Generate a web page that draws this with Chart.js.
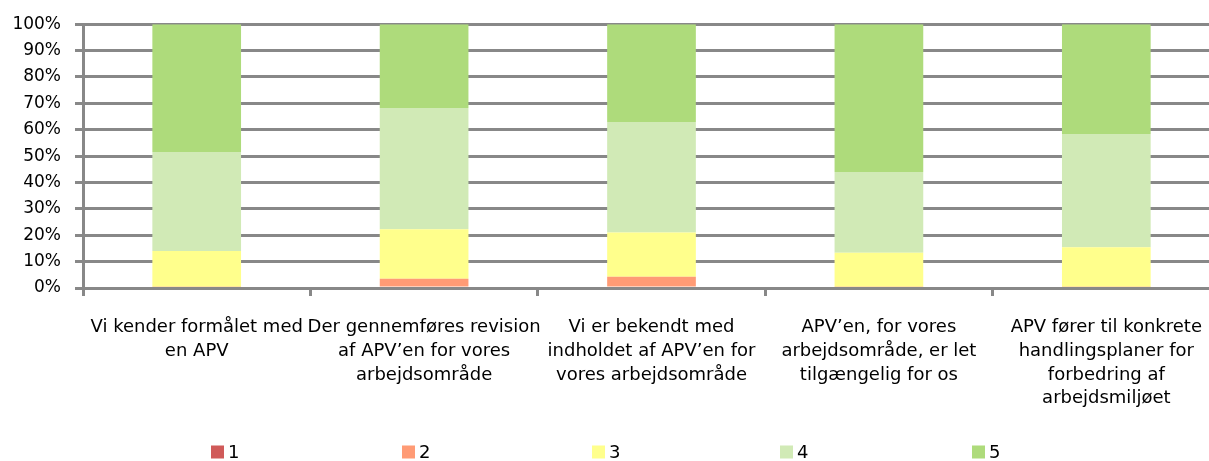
<!DOCTYPE html>
<html>
<head>
<meta charset="utf-8">
<script src="https://cdn.jsdelivr.net/npm/chart.js@4/dist/chart.umd.min.js"></script>
<style>
html,body{margin:0;padding:0;overflow:hidden;background:#fff;}
#wrap{width:1221px;height:461px;}
</style>
</head>
<body>
<div id="wrap"><canvas id="c" width="1221" height="461"></canvas></div>
<script>
const categories = [
  ["Vi kender formålet med", "en APV"],
  ["Der gennemføres revision", "af APV’en for vores", "arbejdsområde"],
  ["Vi er bekendt med", "indholdet af APV’en for", "vores arbejdsområde"],
  ["APV’en, for vores", "arbejdsområde, er let", "tilgængelig for os"],
  ["APV fører til konkrete", "handlingsplaner for", "forbedring af", "arbejdsmiljøet"]
];
const seriesNames = ["1", "2", "3", "4", "5"];
const s1 = [0, 0, 0, 0, 0];
const s2 = [0.5, 3.5, 4.3, 0.5, 0.5];
const s3 = [13.5, 18.8, 16.7, 12.9, 14.9];
const s4 = [37.6, 45.9, 41.9, 30.6, 43.0];
const s5 = [48.4, 31.8, 37.1, 56.0, 41.6];
const yTicks = [0, 10, 20, 30, 40, 50, 60, 70, 80, 90, 100];

const colors = ["#D05A59", "#FF9B75", "#FFFF8C", "#D1EAB6", "#AEDB7B"];
const seriesValues = [s1, s2, s3, s4, s5];
const FONT = "'DejaVu Sans', sans-serif";

const legendPlugin = {
  id: 'customLegend',
  afterDraw(chart) {
    const ctx = chart.ctx;
    const lefts = [211, 402, 592, 780, 972];
    ctx.save();
    ctx.font = "18px " + FONT;
    ctx.textBaseline = 'middle';
    ctx.textAlign = 'left';
    chart.data.datasets.forEach((ds, i) => {
      const x = lefts[i];
      const yc = 452;
      ctx.fillStyle = ds.backgroundColor;
      ctx.fillRect(x, yc - 6.5, 13, 13);
      ctx.fillStyle = '#000';
      ctx.fillText(ds.label, x + 17, yc + 1);
    });
    ctx.restore();
  }
};

new Chart(document.getElementById('c'), {
  type: 'bar',
  data: {
    labels: categories,
    datasets: seriesNames.map((n, i) => ({
      label: n,
      data: seriesValues[i],
      backgroundColor: colors[i],
      borderWidth: 0,
      categoryPercentage: 1,
      barPercentage: 0.39
    }))
  },
  options: {
    responsive: false,
    animation: false,
    devicePixelRatio: 1,
    layout: { padding: { top: 18, left: 0, right: 0, bottom: 0 } },
    plugins: {
      legend: { display: false },
      tooltip: { enabled: false }
    },
    scales: {
      x: {
        stacked: true,
        offset: true,
        grid: {
          offset: true,
          drawOnChartArea: false,
          drawTicks: true,
          tickLength: 8,
          color: '#888888',
          lineWidth: 3
        },
        border: { display: true, color: '#888888', width: 3 },
        ticks: {
          color: '#000',
          font: { family: FONT, size: 18, lineHeight: 1.33 },
          padding: 19,
          maxRotation: 0,
          autoSkip: false
        },
        afterFit(scale) { scale.height = 173; }
      },
      y: {
        stacked: true,
        min: 0,
        max: 100,
        afterBuildTicks(scale) { scale.ticks = yTicks.map(v => ({ value: v })); },
        grid: {
          color: '#888888',
          lineWidth: 3,
          tickLength: 8,
          drawTicks: true
        },
        border: { display: true, color: '#888888', width: 3 },
        ticks: {
          color: '#000',
          font: { family: FONT, size: 17 },
          padding: 14,
          callback: (v) => v + '%'
        },
        afterFit(scale) { scale.width = 83; }
      }
    }
  },
  plugins: [legendPlugin]
});
</script>
</body>
</html>
